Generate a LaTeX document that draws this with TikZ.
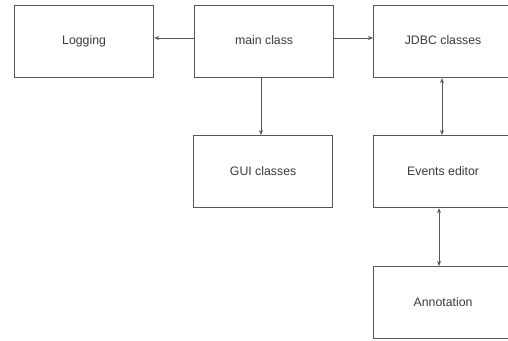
\documentclass[tikz,border=0pt]{standalone}
\usepackage{fontspec}
\setmainfont{Liberation Sans}
\usetikzlibrary{arrows.meta}
\definecolor{edge}{HTML}{555555}
\definecolor{label}{HTML}{3A3A3A}
\begin{document}
\begin{tikzpicture}[x=1pt,y=-1pt,
  box/.style={draw=edge,line width=1.2pt,minimum width=139pt,minimum height=72pt,
    inner sep=0pt,anchor=north west,text=label,font=\fontsize{12.3}{14}\selectfont},
  link/.style={draw=edge,line width=1pt,-{Stealth[length=5pt,width=4pt]}},
  duplex/.style={draw=edge,line width=1pt,{Stealth[length=5pt,width=4pt]}-{Stealth[length=5pt,width=4pt]}}]
\useasboundingbox (0,0) rectangle (508,340);
\begin{scope}
\clip (0,0) rectangle (508,340);
\node[box] (log)  at (14,5)    {\raisebox{3pt}{Logging}};
\node[box] (main) at (194,5)   {\raisebox{3pt}{main class}};
\node[box] (jdbc) at (373,5)   {\raisebox{3pt}{JDBC classes}};
\node[box] (gui)  at (193,135) {GUI classes};
\node[box] (ev)   at (373,135) {Events editor};
\node[box] (ann)  at (373,266) {\raisebox{2pt}{Annotation}};
\end{scope}
\draw[link] (main.west |- 0,38) -- (log.east |- 0,38);
\draw[link] (main.east |- 0,38) -- (jdbc.west |- 0,38);
\draw[link] (main.south -| 261,0) -- (gui.north -| 261,0);
\draw[duplex] (jdbc.south -| 442,0) -- (ev.north -| 442,0);
\draw[duplex] (ev.south -| 439,0) -- (ann.north -| 439,0);
\end{tikzpicture}
\end{document}
